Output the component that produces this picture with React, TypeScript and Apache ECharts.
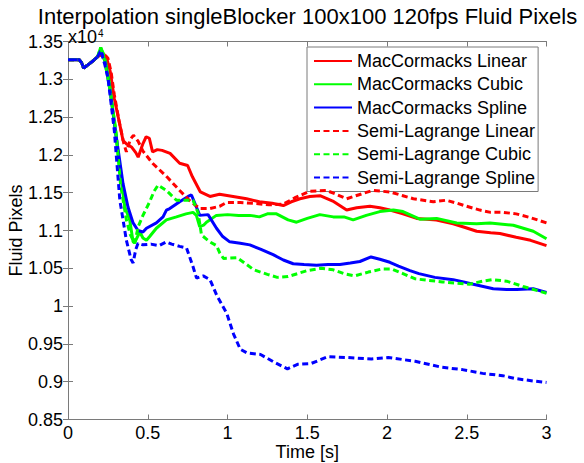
import React, { useEffect, useRef } from "react";
import * as echarts from "echarts";

const FONT = "'Liberation Sans', Arial, Helvetica, sans-serif";

const titleText = "Interpolation singleBlocker 100x100 120fps Fluid Pixels";
const xName = "Time [s]";
const yName = "Fluid Pixels";
const xTicks = [0, 0.5, 1, 1.5, 2, 2.5, 3];
const yTicks = [0.85, 0.9, 0.95, 1, 1.05, 1.1, 1.15, 1.2, 1.25, 1.3, 1.35];

const seriesNames = [
  "MacCormacks Linear",
  "MacCormacks Cubic",
  "MacCormacks Spline",
  "Semi-Lagrange Linear",
  "Semi-Lagrange Cubic",
  "Semi-Lagrange Spline",
];

// shared start (values in units of 1e4)
const startPts: number[][] = [
  [0, 1.326], [0.07, 1.326], [0.085, 1.322], [0.098, 1.315], [0.124, 1.319], [0.155, 1.324], [0.186, 1.33],
];

const mcLinear: number[][] = [
  [0.215, 1.335], [0.24, 1.33], [0.265, 1.31], [0.29, 1.275], [0.32, 1.245], [0.345, 1.219], [0.37, 1.214],
  [0.40, 1.21], [0.425, 1.203], [0.44, 1.197], [0.47, 1.215], [0.49, 1.224], [0.51, 1.222], [0.53, 1.204],
  [0.56, 1.207], [0.59, 1.206], [0.64, 1.202], [0.70, 1.189], [0.75, 1.186], [0.78, 1.171], [0.83, 1.151],
  [0.89, 1.145], [0.95, 1.148], [1.035, 1.145], [1.12, 1.142], [1.2, 1.138], [1.28, 1.136], [1.35, 1.133],
  [1.40, 1.138], [1.454, 1.142], [1.516, 1.145], [1.58, 1.146], [1.66, 1.139], [1.747, 1.127], [1.81, 1.13],
  [1.893, 1.132], [1.955, 1.13], [2.018, 1.127], [2.1, 1.122], [2.186, 1.116], [2.31, 1.114], [2.415, 1.109],
  [2.49, 1.104], [2.562, 1.099], [2.65, 1.097], [2.708, 1.096], [2.81, 1.091], [2.9, 1.087], [3.0, 1.08],
];

const mcCubic: number[][] = [
  [0.205, 1.342], [0.23, 1.33], [0.26, 1.295], [0.29, 1.245], [0.324, 1.184], [0.356, 1.131], [0.387, 1.114],
  [0.408, 1.085], [0.418, 1.084], [0.45, 1.098], [0.47, 1.09], [0.492, 1.087], [0.512, 1.092], [0.554, 1.103],
  [0.617, 1.114], [0.68, 1.118], [0.74, 1.122], [0.784, 1.124], [0.805, 1.12], [0.826, 1.105], [0.85, 1.107],
  [0.868, 1.111], [0.93, 1.12], [1.0, 1.121], [1.07, 1.12], [1.14, 1.12], [1.2, 1.118], [1.25, 1.122],
  [1.307, 1.122], [1.38, 1.114], [1.433, 1.111], [1.5, 1.116], [1.579, 1.121], [1.663, 1.118], [1.73, 1.118],
  [1.788, 1.114], [1.87, 1.12], [1.955, 1.125], [2.04, 1.127], [2.1, 1.125], [2.206, 1.115], [2.311, 1.116],
  [2.437, 1.11], [2.562, 1.109], [2.646, 1.11], [2.792, 1.107], [2.917, 1.099], [3.0, 1.089],
];

const mcSpline: number[][] = [
  [0.205, 1.338], [0.23, 1.325], [0.26, 1.29], [0.30, 1.228], [0.345, 1.162], [0.376, 1.131], [0.408, 1.11],
  [0.439, 1.10], [0.47, 1.098], [0.492, 1.103], [0.554, 1.11], [0.596, 1.118], [0.617, 1.127], [0.638, 1.129],
  [0.70, 1.138], [0.753, 1.145], [0.774, 1.147], [0.805, 1.131], [0.826, 1.12], [0.878, 1.121], [0.931, 1.103],
  [0.97, 1.092], [1.014, 1.085], [1.08, 1.083], [1.14, 1.081], [1.21, 1.075], [1.286, 1.068], [1.35, 1.061],
  [1.412, 1.056], [1.48, 1.055], [1.558, 1.054], [1.63, 1.055], [1.705, 1.055], [1.77, 1.057], [1.83, 1.059],
  [1.9, 1.065], [1.955, 1.062], [2.018, 1.058], [2.072, 1.053], [2.144, 1.047], [2.2, 1.043], [2.3, 1.038],
  [2.415, 1.035], [2.48, 1.032], [2.541, 1.029], [2.666, 1.023], [2.75, 1.022], [2.813, 1.022], [2.917, 1.023],
  [3.0, 1.018],
];

const slLinear: number[][] = [
  [0.22, 1.334], [0.25, 1.328], [0.27, 1.31], [0.29, 1.28], [0.32, 1.245], [0.35, 1.215], [0.366, 1.204],
  [0.39, 1.22], [0.41, 1.226], [0.44, 1.218], [0.47, 1.205], [0.53, 1.189], [0.62, 1.171], [0.70, 1.153],
  [0.76, 1.14], [0.826, 1.129], [0.89, 1.129], [0.95, 1.132], [0.994, 1.137], [1.08, 1.137], [1.16, 1.136],
  [1.26, 1.134], [1.35, 1.135], [1.42, 1.143], [1.516, 1.152], [1.62, 1.153], [1.68, 1.148], [1.747, 1.142],
  [1.82, 1.147], [1.91, 1.153], [2.018, 1.151], [2.1, 1.146], [2.165, 1.142], [2.29, 1.138], [2.37, 1.14],
  [2.44, 1.136], [2.5, 1.132], [2.583, 1.127], [2.65, 1.124], [2.729, 1.124], [2.81, 1.122], [2.9, 1.117],
  [3.0, 1.11],
];

const slCubic: number[][] = [
  [0.205, 1.342], [0.23, 1.325], [0.26, 1.29], [0.30, 1.233], [0.33, 1.16], [0.366, 1.114], [0.39, 1.095],
  [0.408, 1.087], [0.418, 1.083], [0.44, 1.105], [0.47, 1.12], [0.512, 1.138], [0.54, 1.152], [0.565, 1.16],
  [0.617, 1.153], [0.68, 1.14], [0.743, 1.14], [0.784, 1.14], [0.816, 1.123], [0.837, 1.094], [0.889, 1.085],
  [0.931, 1.08], [0.952, 1.07], [0.975, 1.063], [1.06, 1.064], [1.12, 1.055], [1.165, 1.048], [1.25, 1.042],
  [1.312, 1.038], [1.38, 1.039], [1.454, 1.044], [1.5, 1.047], [1.587, 1.05], [1.663, 1.048], [1.73, 1.043],
  [1.798, 1.04], [1.883, 1.045], [1.967, 1.049], [2.03, 1.049], [2.1, 1.043], [2.178, 1.036], [2.347, 1.032],
  [2.516, 1.029], [2.6, 1.033], [2.663, 1.035], [2.75, 1.033], [2.853, 1.026], [3.0, 1.017],
];

const slSpline: number[][] = [
  [0.205, 1.338], [0.23, 1.32], [0.25, 1.303], [0.29, 1.233], [0.325, 1.14], [0.366, 1.087], [0.395, 1.062],
  [0.408, 1.057], [0.425, 1.075], [0.439, 1.083], [0.47, 1.081], [0.52, 1.082], [0.57, 1.08], [0.617, 1.085],
  [0.65, 1.082], [0.70, 1.079], [0.743, 1.077], [0.784, 1.052], [0.806, 1.037], [0.848, 1.04], [0.89, 1.035],
  [0.933, 1.014], [0.996, 0.99], [1.038, 0.963], [1.08, 0.943], [1.123, 0.938], [1.207, 0.936], [1.291, 0.926],
  [1.376, 0.917], [1.439, 0.923], [1.523, 0.924], [1.629, 0.933], [1.755, 0.932], [1.903, 0.93], [2.008, 0.932],
  [2.177, 0.927], [2.346, 0.919], [2.472, 0.916], [2.599, 0.911], [2.725, 0.908], [2.81, 0.904], [2.915, 0.901],
  [3.0, 0.899],
];

const seriesData = [mcLinear, mcCubic, mcSpline, slLinear, slCubic, slSpline];
const seriesColors = ["#ff0000", "#00ff00", "#0000ff", "#ff0000", "#00ff00", "#0000ff"];
const seriesDashed = [false, false, false, true, true, true];

const AXIS_COLOR = "#7a7a7a";

export default function App() {
  const ref = useRef<HTMLDivElement>(null);
  useEffect(() => {
    if (!ref.current) return;
    const chart = echarts.init(ref.current, undefined, { renderer: "svg" });
    const fmt = (v: number) => parseFloat(v.toFixed(2)).toString();
    const grid = { left: 68, top: 41.5, width: 478.5, height: 378, containLabel: false, outerBoundsMode: "none" };
    const baseAxis = {
      axisLine: { show: true, lineStyle: { color: AXIS_COLOR, width: 1 } },
      axisTick: { show: true, inside: true, length: 5, lineStyle: { color: AXIS_COLOR } },
      splitLine: { show: false },
    };
    const option: any = {
      animation: false,
      backgroundColor: "#ffffff",
      grid,
      xAxis: [
        {
          ...baseAxis,
          type: "value",
          min: xTicks[0],
          max: xTicks[xTicks.length - 1],
          interval: 0.5,
          position: "bottom",
          axisLabel: { show: true, margin: 4, fontSize: 18, lineHeight: 18, fontFamily: FONT, color: "#000", formatter: fmt },
          name: xName,
          nameLocation: "middle",
          nameGap: 23,
          nameMoveOverlap: false,
          nameTextStyle: { fontSize: 18, lineHeight: 18, fontFamily: FONT, color: "#000" },
        },
        {
          ...baseAxis,
          type: "value",
          min: xTicks[0],
          max: xTicks[xTicks.length - 1],
          interval: 0.5,
          position: "top",
          axisLabel: { show: false },
        },
      ],
      yAxis: [
        {
          ...baseAxis,
          type: "value",
          min: yTicks[0],
          max: yTicks[yTicks.length - 1],
          interval: 0.05,
          position: "left",
          axisLabel: { show: true, margin: 5, fontSize: 18, fontFamily: FONT, color: "#000", formatter: fmt },
          name: yName,
          nameLocation: "middle",
          nameGap: 43,
          nameMoveOverlap: false,
          nameTextStyle: { fontSize: 18, fontFamily: FONT, color: "#000" },
        },
        {
          ...baseAxis,
          type: "value",
          min: yTicks[0],
          max: yTicks[yTicks.length - 1],
          interval: 0.05,
          position: "right",
          axisLabel: { show: false },
        },
      ],
      legend: {
        orient: "vertical",
        left: 307,
        top: 47,
        itemWidth: 38,
        itemHeight: 14,
        itemGap: 5.3,
        padding: [5, 3, 5, 6],
        backgroundColor: "#ffffff",
        borderColor: "#7a7a7a",
        borderWidth: 1,
        borderRadius: 0,
        itemStyle: { opacity: 0 },
        textStyle: { fontSize: 18, fontFamily: FONT, color: "#000", lineHeight: 18 },
        data: seriesNames,
      },
      graphic: [
        {
          type: "text",
          x: 68,
          y: 37,
          z: 10,
          style: { text: "x10", font: `18px ${FONT}`, lineHeight: 14, fill: "#000", align: "left", verticalAlign: "middle" },
        },
        {
          type: "text",
          x: 98,
          y: 33,
          z: 10,
          style: { text: "4", font: `10px ${FONT}`, lineHeight: 8, fill: "#000", align: "left", verticalAlign: "middle" },
        },
        {
          type: "text",
          x: 307.5,
          y: 16,
          z: 11,
          style: { text: titleText, font: `22px ${FONT}`, lineHeight: 20, fill: "#000", align: "center", verticalAlign: "middle" },
        },
      ],
      series: seriesNames.map((name, i) => ({
        name,
        type: "line",
        xAxisIndex: 0,
        yAxisIndex: 0,
        data: startPts.concat(seriesData[i]),
        symbol: "none",
        showSymbol: false,
        smooth: false,
        clip: true,
        lineStyle: { color: seriesColors[i], width: 3, type: seriesDashed[i] ? [6, 3.5] : "solid" },
        itemStyle: { color: seriesColors[i] },
        z: 2 + i,
      })),
    };
    chart.setOption(option);
    return () => chart.dispose();
  }, []);
  return <div ref={ref} style={{ position: "fixed", left: 0, top: 0, width: 584, height: 463 }} />;
}
